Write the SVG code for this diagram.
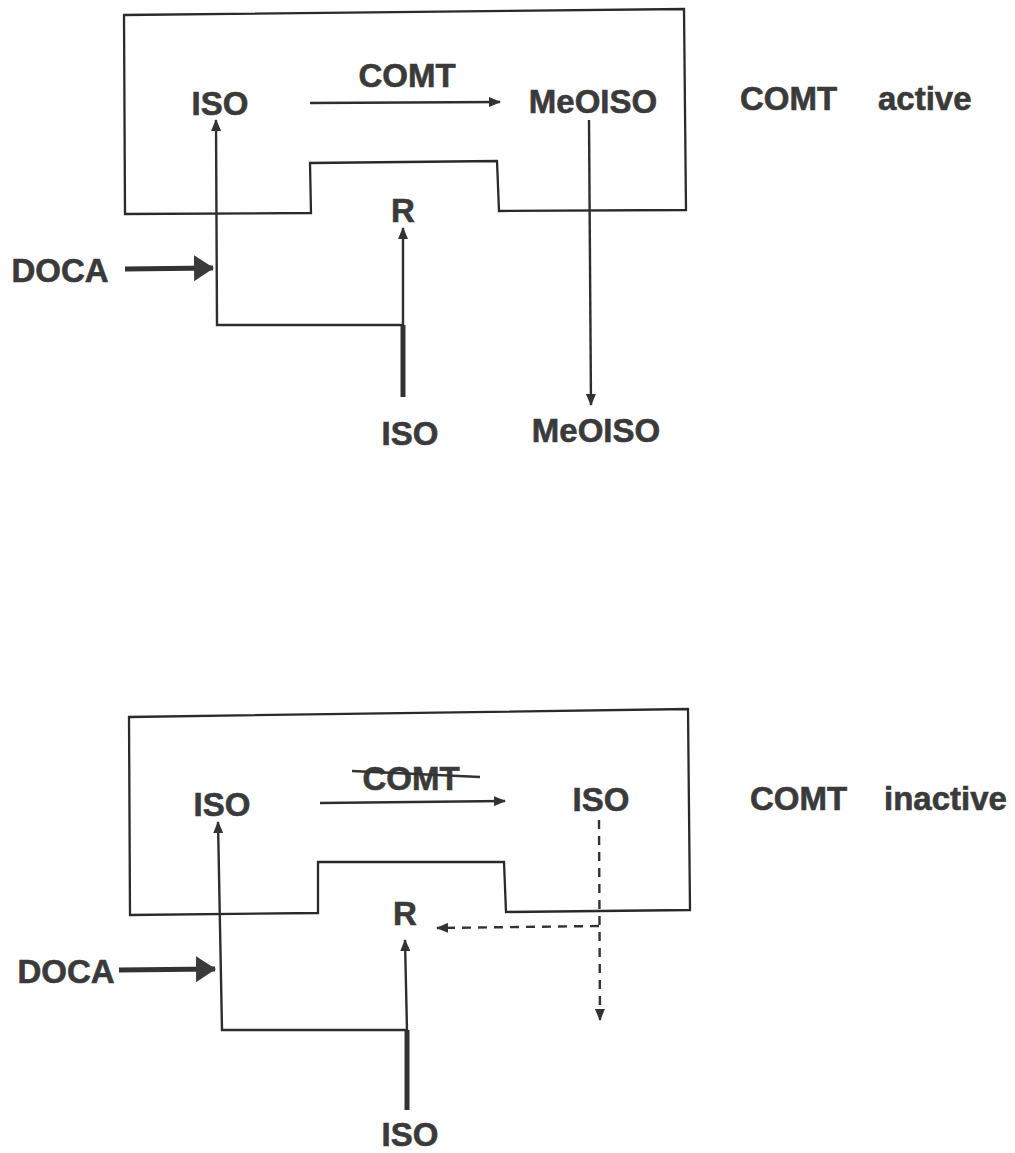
<svg xmlns="http://www.w3.org/2000/svg" width="1015" height="1153" viewBox="0 0 1015 1153">
<style>
  .t { font-family: "Liberation Sans", Arial, sans-serif; font-weight: bold; font-size: 33px; fill: #3a3a3a; stroke: #3a3a3a; stroke-width: 0.6; }
  .box { fill: none; stroke: #2a2a2a; stroke-width: 2.3; stroke-linejoin: miter; }
  .ln { fill: none; stroke: #2e2e2e; stroke-width: 2.4; }
  .thick { fill: none; stroke: #333; stroke-width: 5; }
  .dash { fill: none; stroke: #333; stroke-width: 2.4; stroke-dasharray: 9 7; }
</style>
<defs>
  <marker id="ah" markerUnits="userSpaceOnUse" viewBox="0 0 12 10" refX="11" refY="5" markerWidth="12" markerHeight="10" orient="auto">
    <path d="M0,0 L12,5 L0,10 Z" fill="#333"/>
  </marker>
  <marker id="big" markerUnits="userSpaceOnUse" viewBox="0 0 20 26" refX="19" refY="13" markerWidth="20" markerHeight="26" orient="auto">
    <path d="M0,0 L20,13 L0,26 Z" fill="#3a3a3a"/>
  </marker>
</defs>
<rect width="1015" height="1153" fill="#fff"/>

<!-- ===== Top panel: COMT active ===== -->
<g id="cell-top">
  <path class="box" d="M124,15 L684,9 L686,210 L499,211 L497,161 L310,163 L311,213 L125,214 Z"/>
</g>
<g id="top-iso-in"><text class="t" x="220" y="115" text-anchor="middle">ISO</text></g>
<g id="top-comt"><text class="t" x="407" y="87" text-anchor="middle">COMT</text></g>
<g id="top-meoiso-in"><text class="t" x="593" y="113" text-anchor="middle">MeOISO</text></g>
<g id="top-label"><text class="t" x="740" y="110">COMT</text><text class="t" x="878" y="110">active</text></g>
<g id="top-r"><text class="t" x="403" y="222" text-anchor="middle">R</text></g>
<g id="top-doca"><text class="t" x="60" y="282" text-anchor="middle">DOCA</text></g>
<g id="top-iso-out"><text class="t" x="410" y="445" text-anchor="middle">ISO</text></g>
<g id="top-meoiso-out"><text class="t" x="596" y="442" text-anchor="middle">MeOISO</text></g>

<!-- ===== Bottom panel: COMT inactive ===== -->
<g id="cell-bottom">
  <path class="box" d="M129,717 L688,709 L690,910 L506,912 L504,862 L318,862 L318,913 L130,915 Z"/>
</g>
<g id="bot-iso-in"><text class="t" x="222" y="816" text-anchor="middle">ISO</text></g>
<g id="bot-comt">
  <text class="t" x="411" y="790" text-anchor="middle" font-size="30">COMT</text>
  <path d="M352,771 L480,777" stroke="#333" stroke-width="2.6" fill="none"/>
</g>
<g id="bot-iso-right"><text class="t" x="601" y="811" text-anchor="middle">ISO</text></g>
<g id="bot-label"><text class="t" x="750" y="810">COMT</text><text class="t" x="884" y="810">inactive</text></g>
<g id="bot-r"><text class="t" x="405" y="925" text-anchor="middle">R</text></g>
<g id="bot-doca"><text class="t" x="66" y="983" text-anchor="middle">DOCA</text></g>
<g id="bot-iso-out"><text class="t" x="410" y="1146" text-anchor="middle">ISO</text></g>

<!-- ===== Connectors ===== -->
<g id="connectors">
  <!-- top -->
  <line class="ln" x1="310" y1="103" x2="500" y2="102" marker-end="url(#ah)"/>
  <line class="ln" x1="589" y1="120" x2="591" y2="405" marker-end="url(#ah)"/>
  <line class="thick" x1="403" y1="397" x2="403" y2="325"/>
  <line class="ln" x1="403" y1="326" x2="403" y2="228" marker-end="url(#ah)"/>
  <polyline class="ln" points="403,325 217,325 216,120" marker-end="url(#ah)"/>
  <line class="thick" x1="125" y1="269" x2="213" y2="268" marker-end="url(#big)"/>
  <!-- bottom -->
  <line class="ln" x1="320" y1="803" x2="505" y2="801" marker-end="url(#ah)"/>
  <line class="dash" x1="599" y1="820" x2="600" y2="1020" marker-end="url(#ah)"/>
  <line class="dash" x1="599" y1="926" x2="437" y2="928" marker-end="url(#ah)"/>
  <line class="thick" x1="407" y1="1110" x2="407" y2="1030"/>
  <line class="ln" x1="407" y1="1031" x2="405" y2="940" marker-end="url(#ah)"/>
  <polyline class="ln" points="407,1030 222,1030 218,822" marker-end="url(#ah)"/>
  <line class="thick" x1="119" y1="970" x2="215" y2="969" marker-end="url(#big)"/>
</g>
</svg>
